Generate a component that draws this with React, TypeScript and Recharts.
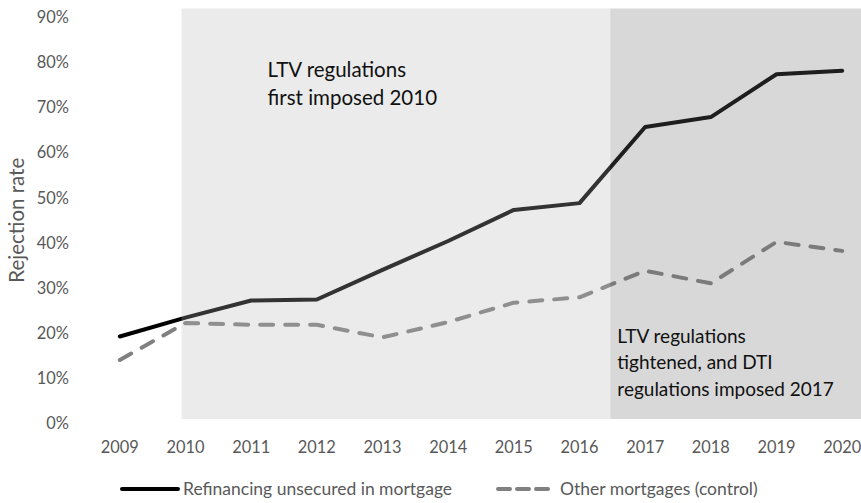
import { LineChart, Line, XAxis, YAxis, ReferenceArea, Legend } from "recharts";

// categories and values (percent)
const years = [2009, 2010, 2011, 2012, 2013, 2014, 2015, 2016, 2017, 2018, 2019, 2020];
const refinancing = [19.2, 23.4, 27.2, 27.4, 34.0, 40.4, 47.3, 48.8, 65.7, 67.9, 77.4, 78.2];
const control = [14.0, 22.2, 21.8, 21.8, 19.0, 22.4, 26.7, 27.9, 33.8, 31.0, 40.2, 38.2];
const yTicks = [0, 10, 20, 30, 40, 50, 60, 70, 80, 90];
// tick marks sit between the year categories
const bandEdges = [...years.map((y) => y - 0.5), years[years.length - 1] + 0.5];

const seriesNames = ["Refinancing unsecured in mortgage", "Other mortgages (control)"];
const note2010 = ["LTV regulations", "first imposed 2010"];
const note2017 = ["LTV regulations", "tightened, and DTI", "regulations imposed 2017"];

const data = years.map((year, i) => ({
  year,
  refinancing: refinancing[i],
  control: control[i],
}));

const FONT = "Lato, 'Open Sans', sans-serif";
const AXIS_GREY = "#d9d9d9";
const TEXT_GREY = "#595959";
const TICK_SIZE = 16.4;

function YLabel(props: any) {
  const { x, y, height } = props.viewBox;
  const cx = x + 24;
  const cy = y + height / 2;
  return (
    <text
      x={cx}
      y={cy}
      transform={`rotate(-90, ${cx}, ${cy})`}
      textAnchor="middle"
      fill={TEXT_GREY}
      fontSize={20.5}
      fontFamily={FONT}
    >
      Rejection rate
    </text>
  );
}

function Note2010(props: any) {
  const { x, y } = props.viewBox;
  return (
    <text x={x + 86} y={y + 69} fill="#111" fontSize={20.5} fontFamily={FONT}>
      {note2010.map((line, i) => (
        <tspan key={line} x={x + 86} dy={i === 0 ? 0 : 28}>
          {line}
        </tspan>
      ))}
    </text>
  );
}

function Note2017(props: any) {
  const { x, y, height } = props.viewBox;
  return (
    <text x={x + 7} y={y + height - 76} fill="#111" fontSize={19} fontFamily={FONT}>
      {note2017.map((line, i) => (
        <tspan key={line} x={x + 7} dy={i === 0 ? 0 : 26.5}>
          {line}
        </tspan>
      ))}
    </text>
  );
}

function LegendContent() {
  return (
    <svg width={861} height={34} style={{ display: "block" }}>
      <line x1={122} y1={20} x2={178} y2={20} stroke="#000" strokeWidth={4} strokeLinecap="round" />
      <text x={183} y={26} fill={TEXT_GREY} fontSize={17.5} fontFamily={FONT}>
        {seriesNames[0]}
      </text>
      <line
        x1={498}
        y1={20}
        x2={548}
        y2={20}
        stroke="#808080"
        strokeWidth={4}
        strokeDasharray="12 7"
        strokeLinecap="round"
      />
      <text x={560} y={26} fill={TEXT_GREY} fontSize={17.5} fontFamily={FONT}>
        {seriesNames[1]}
      </text>
    </svg>
  );
}

export default function App() {
  return (
    <div
      style={{
        position: "fixed",
        top: 0,
        left: 0,
        width: 861,
        height: 503,
        overflow: "hidden",
        background: "#fff",
      }}
    >
      <LineChart
        width={880}
        height={503}
        data={data}
        margin={{ top: 17.5, right: 5, bottom: 0, left: 0 }}
      >
        <XAxis
          xAxisId="marks"
          type="number"
          dataKey="year"
          domain={[2008.5, 2020.5]}
          ticks={bandEdges}
          interval={0}
          tickFormatter={() => ""}
          tickSize={5}
          height={0}
          axisLine={{ stroke: AXIS_GREY }}
          tickLine={{ stroke: AXIS_GREY }}
        />
        <XAxis
          xAxisId="years"
          type="number"
          dataKey="year"
          domain={[2008.5, 2020.5]}
          ticks={years}
          interval={0}
          axisLine={false}
          tickLine={false}
          tickSize={6}
          tickMargin={12}
          height={46}
          tick={{ fill: TEXT_GREY, fontSize: TICK_SIZE, fontFamily: FONT }}
        />
        <YAxis
          type="number"
          domain={[0, 90]}
          ticks={yTicks}
          interval={0}
          width={87}
          axisLine={false}
          tickLine={false}
          tickSize={6}
          tickMargin={12}
          tickFormatter={(v) => `${v}%`}
          tick={{ fill: TEXT_GREY, fontSize: TICK_SIZE, fontFamily: FONT }}
          label={{ content: YLabel }}
        />
        <Legend
          verticalAlign="bottom"
          wrapperStyle={{ left: 0, bottom: 0 }}
          content={<LegendContent />}
        />
        <Line
          xAxisId="years"
          dataKey="refinancing"
          name={seriesNames[0]}
          stroke="#000"
          strokeWidth={4}
          strokeLinejoin="round"
          strokeLinecap="round"
          dot={false}
          activeDot={false}
          isAnimationActive={false}
        />
        <Line
          xAxisId="years"
          dataKey="control"
          name={seriesNames[1]}
          stroke="#808080"
          strokeWidth={4}
          strokeDasharray="13 12"
          strokeLinecap="round"
          strokeLinejoin="round"
          dot={false}
          activeDot={false}
          isAnimationActive={false}
        />
        <ReferenceArea
          xAxisId="years"
          x1={2009.94}
          x2={2016.47}
          y1={0.9}
          y2={92}
          ifOverflow="visible"
          fill="#b7b7b7"
          fillOpacity={0.28}
          stroke="none"
          zIndex={450}
          label={Note2010}
        />
        <ReferenceArea
          xAxisId="years"
          x1={2016.47}
          x2={2020.5}
          y1={0.9}
          y2={92}
          ifOverflow="visible"
          fill="#6e6e6e"
          fillOpacity={0.27}
          stroke="none"
          zIndex={450}
          label={Note2017}
        />
      </LineChart>
    </div>
  );
}
